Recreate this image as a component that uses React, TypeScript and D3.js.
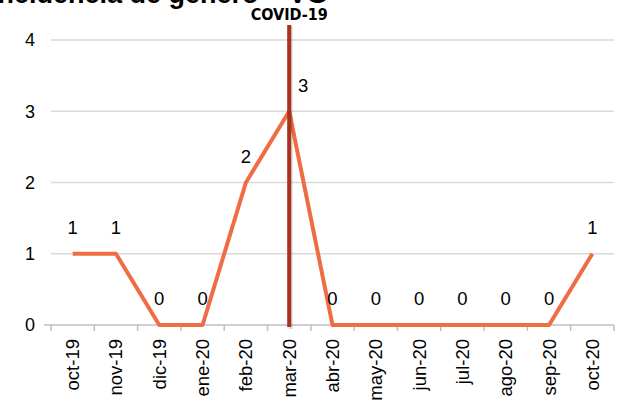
import React from "react";
import * as d3 from "d3";

const categories = ["oct-19","nov-19","dic-19","ene-20","feb-20","mar-20","abr-20","may-20","jun-20","jul-20","ago-20","sep-20","oct-20"];
const values = [1,1,0,0,2,3,0,0,0,0,0,0,1];
const yTicks = [0,1,2,3,4];
const eventCategory = "mar-20";
const eventLabel = "COVID-19";
const title = "Incidencia de género – VG";

export default function App() {
  const W = 618, H = 403;
  const x = d3.scaleBand<string>().domain(categories).range([51, 614]);
  const y = d3.scaleLinear().domain([0, 4]).range([325, 40]);
  const cx = (c: string) => (x(c) as number) + x.bandwidth() / 2;
  const line = d3.line<number>().x((_, i) => cx(categories[i])).y(d => y(d));
  const font = "'Liberation Sans', Arial, sans-serif";
  const evX = cx(eventCategory);
  return (
    <svg width={W} height={H} style={{ position: "absolute", left: 0, top: 0, background: "#fff" }}>
      <text x={-10} y={3} fontFamily={font} fontWeight="bold" fontSize={27} fill="#000">{title}</text>
      {yTicks.filter(t => t > 0).map(t => (
        <line key={t} x1={51} x2={614} y1={y(t)} y2={y(t)} stroke="#d9d9d9" strokeWidth={1.5} />
      ))}
      {yTicks.map(t => (
        <text key={"l" + t} x={35} y={y(t)} dy="0.35em" textAnchor="end" fontFamily={font} fontSize={18} fill="#000">{t}</text>
      ))}
      <line x1={44} x2={614} y1={y(0)} y2={y(0)} stroke="#bfbfbf" strokeWidth={1.5} />
      {categories.map((c, i) => (
        <line key={"t" + i} x1={x(c) as number} x2={x(c) as number} y1={y(0)} y2={y(0) + 6} stroke="#bfbfbf" strokeWidth={1.5} />
      ))}
      <line x1={614} x2={614} y1={y(0)} y2={y(0) + 6} stroke="#bfbfbf" strokeWidth={1.5} />
      {categories.map(c => (
        <text key={"x" + c} transform={`translate(${cx(c)},${y(0) + 14}) rotate(-90)`} dy="0.35em" textAnchor="end" fontFamily={font} fontSize={18.5} fill="#000">{c}</text>
      ))}
      <path d={line(values) as string} fill="none" stroke="#ef6d45" strokeWidth={4} strokeLinejoin="round" />
      <line x1={evX + 1.5} x2={evX + 1.5} y1={26} y2={y(0) + 4} stroke="#000" strokeOpacity={0.15} strokeWidth={4} />
      <line x1={evX} x2={evX} y1={25} y2={y(0) + 2} stroke="#a8321a" strokeWidth={4} />
      <text x={evX} y={20} textAnchor="middle" fontFamily="'Liberation Sans Narrow', 'Arial Narrow', 'DejaVu Sans Condensed', sans-serif" fontWeight="bold" fontSize={16} fill="#000">{eventLabel}</text>
      {values.map((v, i) => {
        const c = categories[i];
        const isEv = c === eventCategory;
        return (
          <text key={"v" + i} x={cx(c) + (isEv ? 14 : 0)} y={y(v) - 26} dy="0.35em" textAnchor="middle" fontFamily={font} fontSize={18.5} fill="#000">{v}</text>
        );
      })}
    </svg>
  );
}
